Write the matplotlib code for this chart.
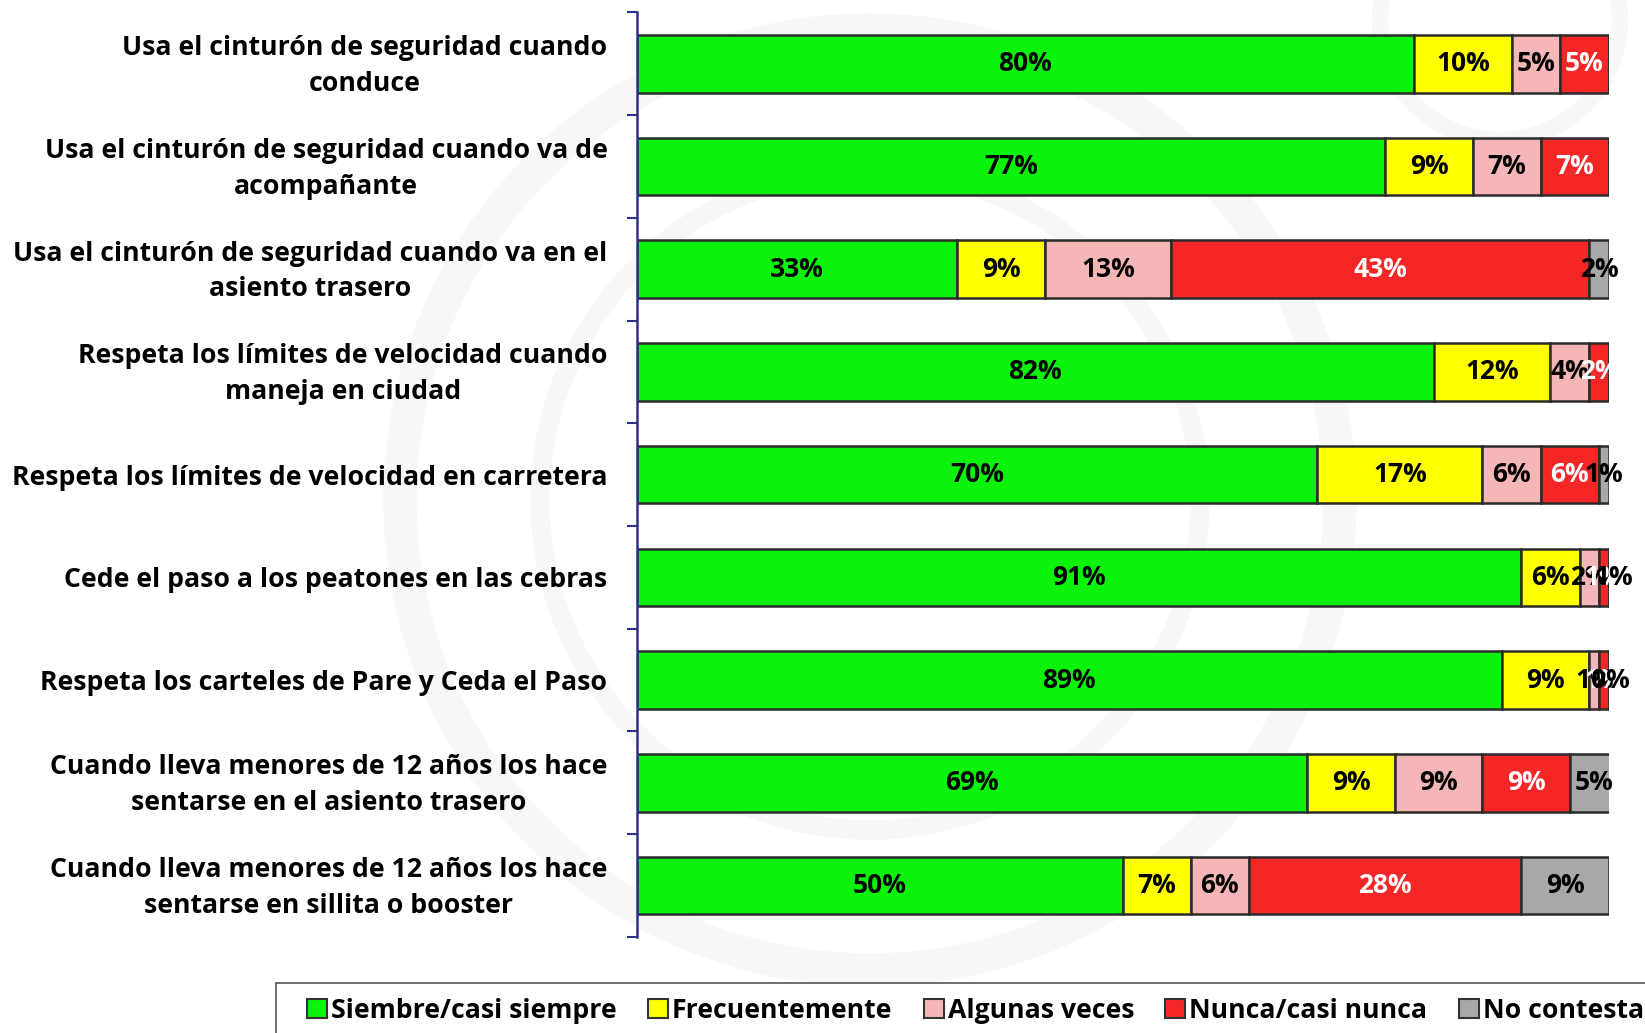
import matplotlib
matplotlib.use("Agg")
import matplotlib.pyplot as plt
import numpy as np
from matplotlib.patches import Patch, Circle, Rectangle
from matplotlib.transforms import ScaledTranslation

categories = [
    "Usa el cinturón de seguridad cuando\nconduce",
    "Usa el cinturón de seguridad cuando va de\nacompañante",
    "Usa el cinturón de seguridad cuando va en el\nasiento trasero",
    "Respeta los límites de velocidad cuando\nmaneja en ciudad",
    "Respeta los límites de velocidad en carretera",
    "Cede el paso a los peatones en las cebras",
    "Respeta los carteles de Pare y Ceda el Paso",
    "Cuando lleva menores de 12 años los hace\nsentarse en el asiento trasero",
    "Cuando lleva menores de 12 años los hace\nsentarse en sillita o booster",
]
series_names = ["Siembre/casi siempre", "Frecuentemente", "Algunas veces",
                "Nunca/casi nunca", "No contesta"]
siempre = [80, 77, 33, 82, 70, 91, 89, 69, 50]
frecuente = [10, 9, 9, 12, 17, 6, 9, 9, 7]
algunas = [5, 7, 13, 4, 6, 2, 1, 9, 6]
nunca = [5, 7, 43, 2, 6, 1, 1, 9, 28]
no_contesta = [0, 0, 2, 0, 1, 1, 0.4, 5, 9]

series = [siempre, frecuente, algunas, nunca, no_contesta]
colors = ["#0bf20b", "#ffff00", "#f4b6b6", "#f52626", "#a8a8a8"]
text_colors = ["black", "black", "black", "white", "black"]

plt.rcParams['font.family'] = ['Open Sans', 'DejaVu Sans']

fig = plt.figure(figsize=(16.45, 10.33), dpi=100)

# faint watermark rings and legend frame in the background
bg = fig.add_axes([0, 0, 1, 1], zorder=-10)
bg.set_xlim(0, 1645)
bg.set_ylim(1033, 0)
bg.axis("off")
for (cx, cy, r, lw) in [(870, 500, 470, 24), (870, 500, 330, 14), (1500, 20, 120, 12)]:
    bg.add_patch(Circle((cx, cy), r, fill=False, edgecolor="#f7f7f7", linewidth=lw))
bg.add_patch(Rectangle((276, 983), 1400, 100, facecolor="white",
                       edgecolor="#555555", linewidth=1.2))

ax = fig.add_axes([0.387, 0.093, 0.978 - 0.387, 0.988 - 0.093])

y = np.arange(len(categories))
left = np.zeros(len(categories))
for vals, col, tc, name in zip(series, colors, text_colors, series_names):
    vals = np.array(vals, dtype=float)
    ax.barh(y, vals, left=left, height=0.56, color=col, edgecolor="#2b2b2b",
            linewidth=1.8, label=name)
    for yi, (l, v) in enumerate(zip(left, vals)):
        if v > 0:
            ax.text(l + v / 2, yi, f"{round(v):.0f}%", ha="center", va="center",
                    fontsize=19, fontweight="bold", color=tc)
    left += vals

ax.set_xlim(0, 100)
ax.set_ylim(len(categories) - 0.5, -0.5)
ax.set_yticks(y)
ax.set_yticklabels(categories, fontsize=19.2, fontweight="bold",
                   multialignment="center", linespacing=1.48)
ax.tick_params(axis="y", which="major", length=0, pad=21)
for lab, cat in zip(ax.get_yticklabels(), categories):
    if "\n" in cat:
        lab.set_transform(lab.get_transform() + ScaledTranslation(0, 0.055, fig.dpi_scale_trans))
ax.set_yticks(np.arange(-0.5, len(categories) + 0.5, 1), minor=True)
ax.tick_params(axis="y", which="minor", length=7, width=1.5, color="#2e2e8c")
ax.tick_params(axis="x", bottom=False, labelbottom=False)
for s in ["top", "right", "bottom"]:
    ax.spines[s].set_visible(False)
ax.spines["left"].set_color("#2e2e8c")
ax.spines["left"].set_linewidth(1.8)
ax.patch.set_alpha(0)

handles = [Patch(facecolor=c, edgecolor="#333333", linewidth=1.5) for c in colors]
leg = fig.legend(handles, series_names, loc="center left",
                 bbox_to_anchor=(0.1868, 0.0213), ncol=5, frameon=False,
                 prop={"weight": "bold", "size": 19.2},
                 handlelength=0.75, handleheight=0.75, handletextpad=0.15,
                 columnspacing=1.17, borderpad=0, borderaxespad=0)

fig.savefig("out.png", dpi=100)
